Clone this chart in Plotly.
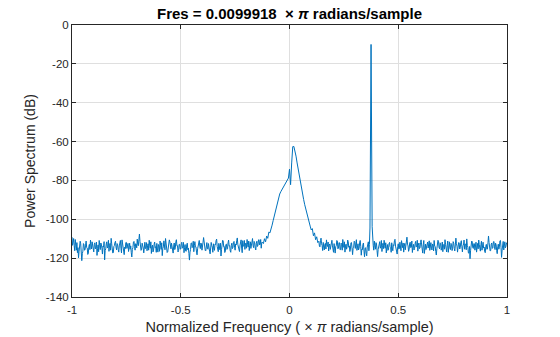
import numpy as np
import plotly.graph_objects as go

# Power spectrum estimate (dB), split by region of the normalized band.
# Noise floor below the low-frequency component, -1 ... -0.125
noise_left = [
    -109.2, -113.4, -111.8, -109.9, -113.5, -116.2, -110.4, -113.1, -115.9, -112.0,
    -117.2, -114.6, -119.8, -116.5, -114.1, -111.3, -112.6, -115.8, -121.3, -117.7,
    -116.4, -112.5, -113.0, -115.9, -115.7, -113.3, -111.2, -114.5, -114.8, -118.1,
    -117.5, -113.9, -112.9, -115.6, -110.7, -113.2, -115.3, -111.6, -113.6, -116.4,
    -116.8, -113.0, -112.1, -115.2, -114.4, -111.7, -118.6, -115.1, -113.2, -116.7,
    -110.9, -113.6, -115.6, -112.2, -112.8, -114.9, -117.9, -113.8, -114.3, -111.5,
    -120.9, -116.1, -115.2, -112.7, -111.6, -114.8, -113.9, -110.8, -116.5, -113.4,
    -112.4, -115.9, -109.8, -112.6, -114.7, -117.4, -117.1, -114.0, -113.5, -111.9,
    -111.3, -114.4, -115.8, -112.5, -113.1, -115.6, -116.9, -113.7, -112.7, -110.9,
    -114.9, -117.3, -110.6, -113.5, -113.8, -116.1, -118.2, -114.3, -115.1, -112.0,
    -111.9, -115.0, -114.2, -112.4, -116.6, -113.8, -112.3, -115.4, -113.7, -117.2,
    -119.4, -115.5, -114.6, -111.7, -111.4, -113.9, -115.9, -112.6, -112.8, -114.7,
    -110.2, -112.9, -113.6, -110.5, -107.6, -111.4, -112.9, -116.0, -115.4, -112.3,
    -113.1, -114.8, -117.3, -113.6, -111.8, -115.1, -114.5, -112.0, -116.2, -113.5,
    -112.6, -115.9, -110.8, -113.3, -114.9, -111.6, -117.6, -114.2, -113.3, -116.8,
    -115.8, -112.9, -111.7, -114.6, -114.1, -117.0, -112.4, -115.3, -116.9, -113.0,
    -113.8, -116.5, -111.2, -113.4, -115.5, -112.1, -118.7, -115.0, -114.2, -111.1,
    -112.5, -115.7, -109.9, -112.8, -114.6, -117.1, -116.8, -113.5, -113.1, -110.6,
    -111.6, -114.9, -115.2, -112.3, -113.9, -116.2, -117.4, -113.8, -112.2, -115.6,
    -114.7, -111.4, -110.5, -113.7, -113.6, -116.8, -116.1, -112.9, -112.9, -115.4,
    -115.3, -112.6, -111.8, -114.9, -114.4, -111.9, -117.2, -114.5, -113.0, -116.3,
    -116.5, -113.2, -112.3, -115.7, -114.8, -117.6, -121.0, -116.9, -115.6, -112.4,
    -112.1, -114.6, -113.9, -111.3, -116.7, -113.6, -111.5, -114.2, -114.2, -116.9,
    -118.3, -115.2, -113.4, -111.0, -110.9, -113.8, -115.1, -112.2, -112.7, -115.9,
    -114.6, -111.8, -109.4, -112.7, -113.2, -116.0, -116.3, -113.1, -112.0, -114.9,
    -115.4, -112.5, -113.7, -116.4, -117.8, -114.3, -111.9, -113.6, -114.3, -117.0,
    -112.6, -115.1, -116.0, -112.8, -113.1, -110.9, -110.2, -113.9, -114.9, -116.7,
    -112.4, -115.0, -115.7, -112.3, -118.9, -115.6, -113.5, -110.8, -111.1, -114.2,
    -114.0, -117.1, -116.4, -113.0, -112.8, -115.5, -115.2, -112.1, -110.7, -113.8,
    -113.6, -116.3, -117.0, -113.4, -112.3, -115.1, -114.5, -111.8, -111.4, -114.4,
    -115.9, -112.7, -113.2, -110.8, -109.6, -113.0, -114.1, -116.5, -116.6, -113.3,
    -112.5, -110.6, -114.8, -117.2, -111.0, -113.9, -113.7, -110.9, -115.5, -112.6,
    -112.2, -114.9, -110.4, -113.1, -114.3, -111.2, -116.1, -113.4, -111.6, -115.0,
    -113.0, -110.3, -109.9, -113.5, -114.6, -111.4, -112.1, -114.8, -115.8, -112.3,
    -111.3, -114.0, -113.4, -110.6, -110.5, -113.2, -112.8, -110.4, -114.9, -112.0,
    -111.7,
]

# Broad low-frequency component around DC, -0.12 ... 0.13
broad_peak = [
    -112.5, -110.0, -111.6, -108.6, -109.8, -106.6, -107.0, -104.2, -103.0, -100.6,
    -98.4, -95.6, -93.2, -90.8, -88.6, -87.0, -85.8, -84.8, -83.8, -82.8,
    -82.0, -81.2, -80.2, -78.8, -74.2, -82.2, -71.0, -62.6, -62.5, -64.5,
    -67.5, -71.0, -74.5, -78.0, -81.0, -84.0, -87.0, -89.8, -92.5, -95.0,
    -97.5, -99.8, -101.8, -103.5, -105.5, -104.8, -108.5, -107.0, -110.5, -109.0,
    -112.0,
]

# Noise floor between the two components, 0.135 ... 0.37
noise_mid = [
    -111.3, -113.8, -114.2, -111.0, -109.7, -112.6, -113.5, -116.1, -111.9, -114.3,
    -115.8, -112.9, -112.4, -115.3, -110.6, -113.1, -114.0, -111.7, -116.3, -113.4,
    -112.7, -115.5, -113.9, -111.4, -110.8, -113.7, -115.1, -117.0, -112.5, -114.6,
    -117.4, -114.1, -113.6, -110.9, -111.2, -115.2, -114.8, -112.0, -112.1, -115.7,
    -115.6, -112.3, -113.0, -115.9, -110.4, -113.3, -114.5, -111.6, -116.9, -113.8,
    -112.8, -115.4, -114.1, -110.7, -111.5, -114.4, -113.7, -116.6, -115.3, -112.1,
    -112.0, -114.8, -118.2, -114.9, -114.4, -111.3, -111.8, -115.0, -113.2, -110.5,
    -116.0, -113.6, -112.6, -115.8, -114.9, -112.2, -110.9, -113.9, -118.5, -115.4,
    -115.7, -112.9, -112.2, -116.4, -119.3, -115.1, -114.6, -117.5, -118.8, -114.3,
    -113.1, -111.6, -116.2, -113.0, -104.5,
]

# Sinusoidal tone bin at 0.375
tone_freq = [0.375]
tone_peak = [-10.0]

# Noise floor above the tone, 0.38 ... 1
noise_right = [
    -103.8, -112.4, -113.6, -115.9, -111.2, -113.7, -115.4, -112.0, -112.7, -116.1,
    -119.2, -115.6, -114.1, -112.2, -111.5, -114.9, -113.8, -110.9, -116.6, -113.5,
    -112.3, -115.1, -110.8, -113.4, -114.9, -112.1, -117.3, -114.7, -113.0, -116.0,
    -115.7, -112.6, -111.9, -114.0, -114.4, -117.0, -112.1, -114.8, -116.2, -113.1,
    -113.5, -111.0, -110.3, -113.8, -114.8, -116.4, -117.9, -114.1, -112.6, -115.3,
    -115.1, -111.8, -113.3, -116.2, -111.0, -113.6, -114.6, -112.2, -116.9, -113.9,
    -112.4, -115.7, -114.0, -111.5, -109.2, -112.8, -113.7, -116.5, -115.5, -112.3,
    -111.8, -114.6, -114.3, -111.2, -117.1, -114.4, -112.9, -115.8, -115.0, -112.5,
    -111.4, -114.3, -113.9, -110.8, -116.4, -113.5, -112.2, -115.1, -114.7, -111.9,
    -110.6, -113.2, -115.3, -117.4, -113.1, -110.9, -117.6, -114.5, -112.8, -115.6,
    -114.5, -112.0, -111.7, -114.8, -113.6, -111.1, -116.0, -113.3, -112.0, -114.9,
    -115.8, -112.7, -113.2, -116.3, -110.9, -113.8, -114.1, -116.6, -118.4, -115.2,
    -113.7, -110.8, -111.3, -114.5, -115.2, -112.1, -112.5, -115.9, -114.8, -111.7,
    -116.7, -113.6, -112.9, -115.4, -110.5, -113.0, -114.2, -116.8, -113.4, -111.2,
    -117.0, -113.9, -111.6, -114.7, -115.6, -112.4, -113.0, -116.1, -114.9, -111.5,
    -112.3, -115.0, -116.3, -113.2, -109.7, -112.6, -113.8, -116.9, -115.1, -112.0,
    -112.1, -115.3, -114.6, -111.9, -111.0, -114.1, -116.8, -113.6, -113.3, -110.7,
    -115.4, -112.8, -112.7, -115.7, -110.1, -113.4, -114.4, -117.3, -117.5, -114.0,
    -120.3, -116.2, -113.9, -111.2, -111.5, -114.6, -115.0, -112.5, -112.6, -115.9,
    -114.1, -111.8, -116.9, -113.7, -112.4, -115.2, -110.7, -113.1, -114.5, -116.4,
    -113.0, -111.3, -115.9, -113.0, -111.8, -114.8, -114.3, -116.7, -117.2, -113.9,
    -112.9, -115.5, -115.3, -112.1, -108.6, -111.9, -113.6, -116.3, -116.1, -112.8,
    -112.2, -115.0, -114.7, -111.6, -111.4, -114.2, -115.6, -112.3, -113.1, -116.0,
    -117.7, -114.1, -112.8, -115.4, -114.2, -111.1, -110.9, -114.6, -119.6, -115.8,
    -113.5, -111.4, -115.8, -113.2, -111.6, -114.7, -114.0, -112.1, -112.9,
]

# Frequency bins (x pi rad/sample) for each region
freq = np.concatenate([
    np.linspace(-1.0, -0.125, len(noise_left)),
    np.linspace(-0.12, 0.13, len(broad_peak)),
    np.linspace(0.135, 0.37, len(noise_mid)),
    np.array(tone_freq),
    np.linspace(0.38, 1.0, len(noise_right)),
])
power_db = noise_left + broad_peak + noise_mid + tone_peak + noise_right

x_ticks = [-1, -0.5, 0, 0.5, 1]
x_tick_text = ["-1", "-0.5", "0", "0.5", "1"]
y_ticks = [0, -20, -40, -60, -80, -100, -120, -140]
y_tick_text = ["0", "-20", "-40", "-60", "-80", "-100", "-120", "-140"]

FONT = "Liberation Sans, Arial, Helvetica, sans-serif"
INK = "#262626"
GRID = "#dfdfdf"

fig = go.Figure(
    go.Scatter(
        x=freq,
        y=power_db,
        mode="lines",
        line=dict(color="#0072BD", width=1),
        hoverinfo="skip",
    )
)

axis_common = dict(
    showline=True,
    linecolor=INK,
    linewidth=1,
    mirror="ticks",
    ticks="inside",
    ticklen=4,
    tickcolor=INK,
    showgrid=True,
    gridcolor=GRID,
    gridwidth=1,
    zeroline=False,
    automargin=False,
    tickfont=dict(family=FONT, size=11.5, color=INK),
)

fig.update_layout(
    width=560,
    height=337,
    margin=dict(l=72, r=53, t=25, b=40),
    paper_bgcolor="white",
    plot_bgcolor="white",
    showlegend=False,
    title=dict(
        text="<b>Fres = 0.0099918\u00a0\u00a0× <i>π</i> radians/sample</b>",
        x=(72 + 507) / 2 / 560,
        xanchor="center",
        y=1 - 13.5 / 337,
        yanchor="middle",
        yref="container",
        font=dict(family=FONT, size=15, color="#000000"),
    ),
    xaxis=dict(
        range=[-1, 1],
        tickvals=x_ticks,
        ticktext=x_tick_text,
        ticklabelstandoff=2,
        title=dict(
            text="Normalized Frequency (\u00a0× <i>π</i> radians/sample)",
            font=dict(family=FONT, size=14.5, color=INK),
            standoff=7,
        ),
        **axis_common,
    ),
    yaxis=dict(
        range=[-140, 0],
        tickvals=y_ticks,
        ticktext=y_tick_text,
        title=dict(
            text="Power Spectrum (dB)",
            font=dict(family=FONT, size=14, color=INK),
            standoff=6,
        ),
        **axis_common,
    ),
)

fig.write_html("out.html")
